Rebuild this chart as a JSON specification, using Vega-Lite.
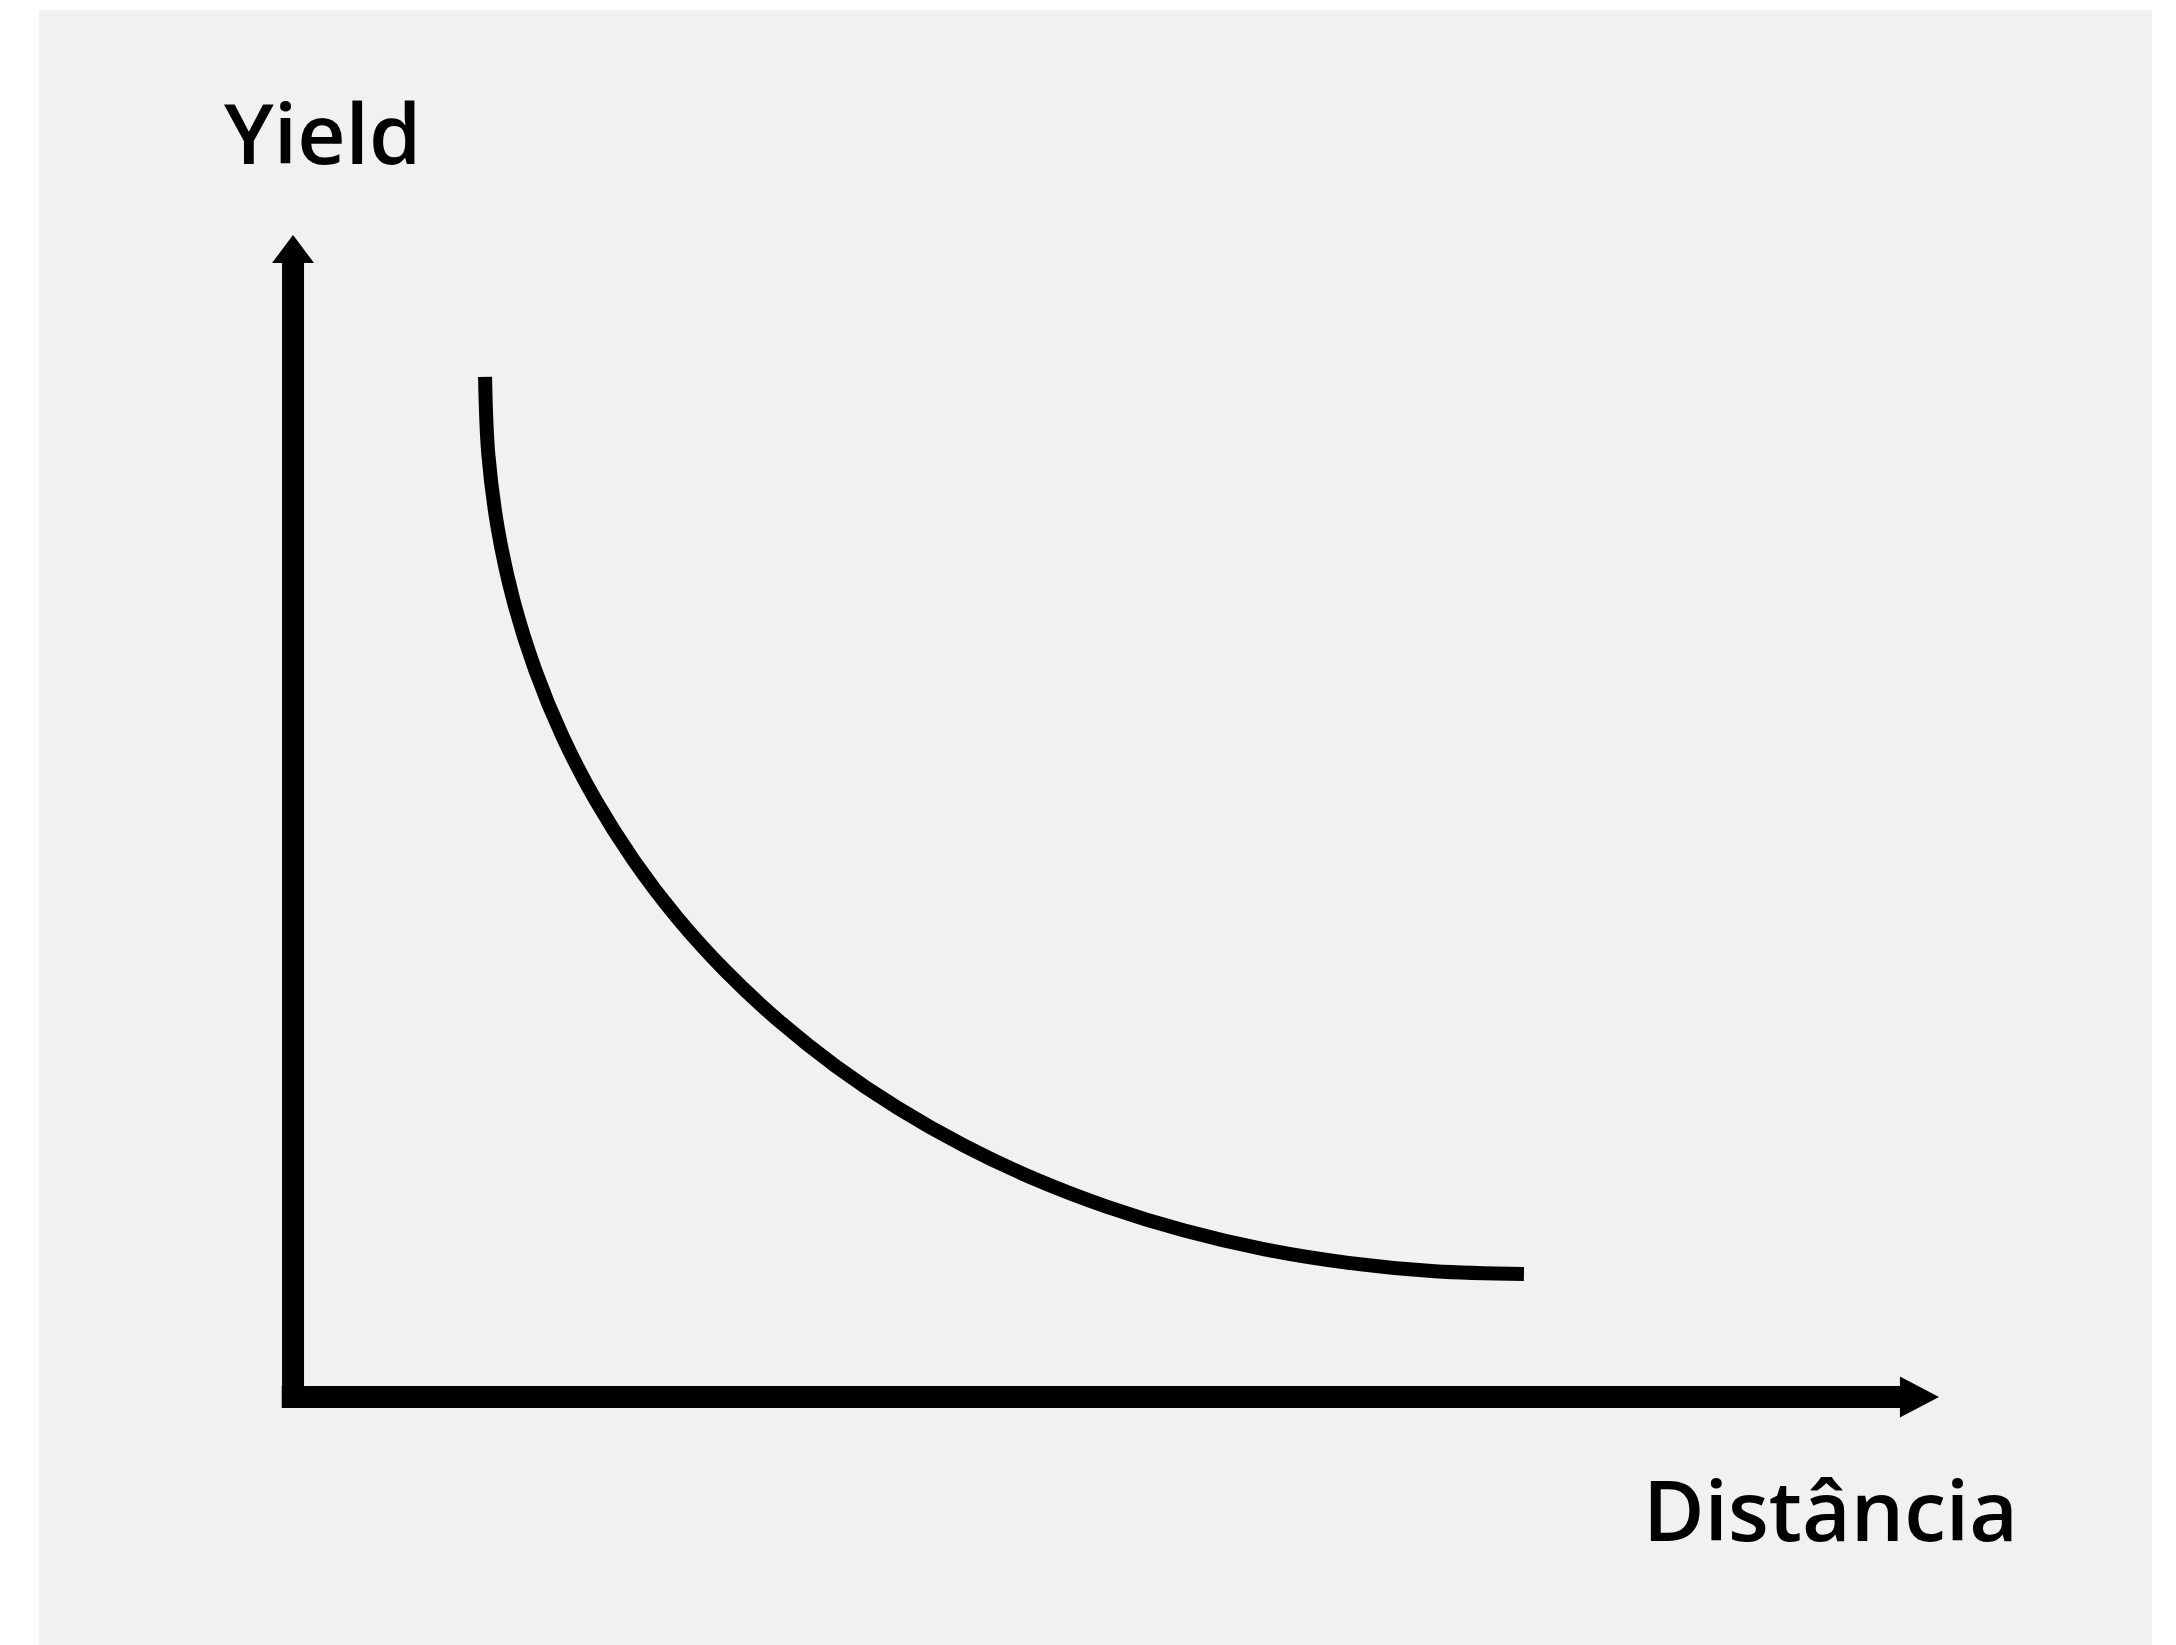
{
  "$schema": "https://vega.github.io/schema/vega-lite/v6.json",
  "width": 2113,
  "height": 1635,
  "autosize": {"type": "none"},
  "padding": {"left": 39, "top": 10, "right": 24, "bottom": 0},
  "background": "#ffffff",
  "config": {"view": {"fill": "#f1f1f1", "stroke": null}},
  "datasets": {
    "curve": [
      {"dist": 11.89, "yield": 87.78},
      {"dist": 12.09, "yield": 81.16},
      {"dist": 12.68, "yield": 74.74},
      {"dist": 13.65, "yield": 68.54},
      {"dist": 15.0, "yield": 62.56},
      {"dist": 16.69, "yield": 56.84},
      {"dist": 18.73, "yield": 51.37},
      {"dist": 21.1, "yield": 46.18},
      {"dist": 23.78, "yield": 41.27},
      {"dist": 26.77, "yield": 36.68},
      {"dist": 30.06, "yield": 32.4},
      {"dist": 33.62, "yield": 28.46},
      {"dist": 37.45, "yield": 24.87},
      {"dist": 41.54, "yield": 21.64},
      {"dist": 45.86, "yield": 18.8},
      {"dist": 50.42, "yield": 16.36},
      {"dist": 55.19, "yield": 14.32},
      {"dist": 60.17, "yield": 12.7},
      {"dist": 65.35, "yield": 11.54},
      {"dist": 70.7, "yield": 10.83},
      {"dist": 76.22, "yield": 10.59}
    ],
    "axes": [
      {"axis": "y", "x": 0, "y": -0.95, "x2": 0, "y2": 98},
      {"axis": "x", "x": -0.7, "y": 0, "x2": 99.8, "y2": 0}
    ],
    "heads": [
      {"axis": "y", "x": 0, "y": 100},
      {"axis": "x", "x": 101.92, "y": 0}
    ],
    "labels": [
      {"label": "Yield", "x": -4.27, "y": 106.1},
      {"label": "Distância", "x": 83.59, "y": -12.39}
    ]
  },
  "layer": [
    {
      "data": {"name": "axes"},
      "mark": {"type": "rule", "color": "#000000", "strokeWidth": 22, "strokeCap": "butt"},
      "encoding": {
        "x": {"field": "x", "type": "quantitative", "scale": {"domain": [-15.73, 115.11], "nice": false, "zero": false}, "axis": null},
        "y": {"field": "y", "type": "quantitative", "scale": {"domain": [-21.34, 119.36], "nice": false, "zero": false}, "axis": null},
        "x2": {"field": "x2"},
        "y2": {"field": "y2"}
      }
    },
    {
      "data": {"name": "heads"},
      "mark": {"type": "point", "filled": true, "color": "#000000", "opacity": 1, "size": 1764, "strokeWidth": 0},
      "encoding": {
        "x": {"field": "x", "type": "quantitative"},
        "y": {"field": "y", "type": "quantitative"},
        "shape": {"field": "axis", "type": "nominal", "legend": null,
          "scale": {"domain": ["y", "x"], "range": ["M0,0L1,1.33L-1,1.33Z", "M0,0L-1.86,-0.98L-1.86,0.98Z"]}}
      }
    },
    {
      "data": {"name": "curve"},
      "mark": {"type": "line", "color": "#000000", "strokeWidth": 14, "strokeCap": "butt", "interpolate": "catmull-rom"},
      "encoding": {
        "x": {"field": "dist", "type": "quantitative"},
        "y": {"field": "yield", "type": "quantitative"}
      }
    },
    {
      "data": {"name": "labels"},
      "mark": {"type": "text", "align": "left", "baseline": "alphabetic", "font": "Open Sans", "fontWeight": 600, "fontSize": 84, "color": "#000000"},
      "encoding": {
        "x": {"field": "x", "type": "quantitative"},
        "y": {"field": "y", "type": "quantitative"},
        "text": {"field": "label"}
      }
    }
  ]
}
